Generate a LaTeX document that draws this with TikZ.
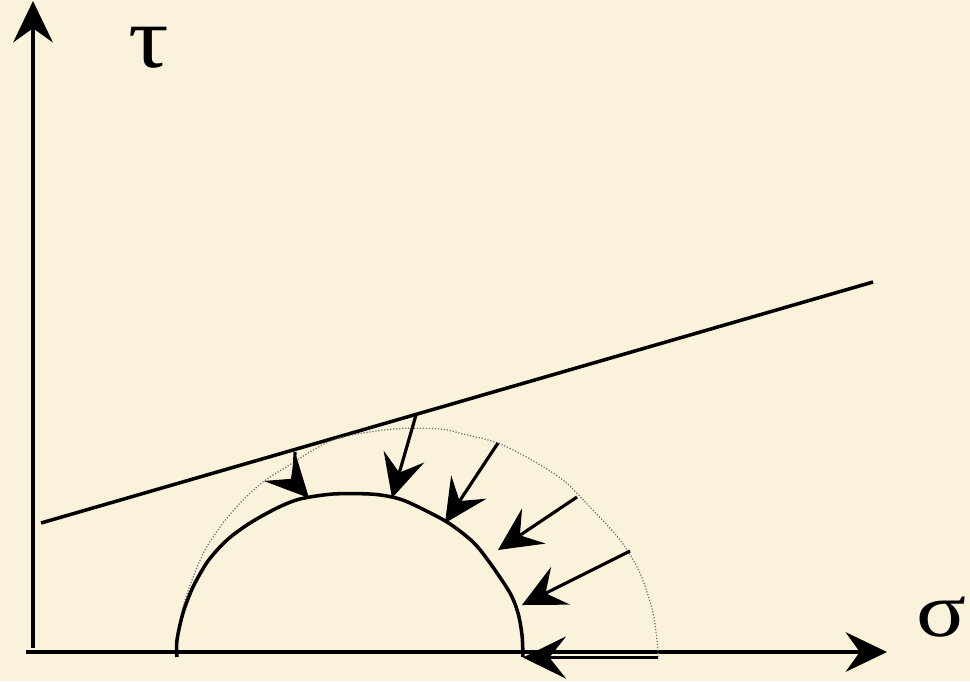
\documentclass[tikz,border=0pt]{standalone}
\usepackage{fontspec}
\setmainfont{Liberation Serif}
\usetikzlibrary{arrows.meta}
\definecolor{parch}{RGB}{251,242,220}
\tikzset{
  axisline/.style={line width=2pt, -{Stealth[length=23.5pt,width=22.5pt,inset=8pt]}},
  thick line/.style={line width=2pt},
  pusharrow/.style={line width=1.8pt, -{Stealth[length=24.5pt,width=24pt,inset=9.5pt]}},
  oldcircle/.style={black!55, line width=0.7pt, densely dotted},
  lab/.style={inner sep=0pt}
}
\begin{document}
\begin{tikzpicture}[x=0.02cm,y=-0.02cm]
\fill[parch] (0,0) rectangle (970,681);
\useasboundingbox (0,0) rectangle (970,681);
% axes
\coordinate (ytop) at (33,1);
\coordinate (ybot) at (33,648);
\coordinate (xl) at (26,652);
\coordinate (xr) at (887,652);
\draw[axisline] (ybot) -- (ytop);
\draw[axisline] (xl) -- (xr);
\node[lab, font=\fontsize{50}{54}\selectfont, xscale=1.15] (tau) at (149,48) {τ};
\node[lab, font=\fontsize{44}{48}\selectfont, xscale=1.2] (sig) at (941,617) {σ};
% envelope line
\coordinate (la) at (41,523);
\coordinate (lb) at (873,282);
\draw[thick line] (la) -- (lb);
% initial (dotted) circle
\draw[oldcircle] plot[smooth] coordinates {(177,650) (179,630) (183,607) (192,580) (205,550) (223,523) (243,500) (263,482) (283,469) (333,440) (393,429) (440,429) (463,434) (498,443) (530,459) (563,480) (590,507) (620,540) (640,573) (653,613) (658,650) (658,657)};
% reduced (solid) circle
\draw[thick line] plot[smooth] coordinates {(177,657) (177,640) (183,613) (193,587) (208,561) (227,540) (250,523) (277,508) (300,499) (333,494) (370,494) (392,497) (410,503) (447,522) (473,542) (490,563) (510,593) (518,613) (522,635) (523,657)};
% arrows
\coordinate (a1s) at (295,452); \coordinate (a1e) at (309,498);
\coordinate (a2s) at (416,415); \coordinate (a2e) at (392,498);
\coordinate (a3s) at (498,443); \coordinate (a3e) at (445,523);
\coordinate (a4s) at (577,497); \coordinate (a4e) at (498,550);
\coordinate (a5s) at (630,551); \coordinate (a5e) at (522,605);
\coordinate (a6s) at (658,657.5); \coordinate (a6e) at (523,657.5);
\draw[pusharrow] (a1s) .. controls (294,482) .. (a1e);
\draw[pusharrow] (a2s) -- (a2e);
\draw[pusharrow] (a3s) -- (a3e);
\draw[pusharrow] (a4s) -- (a4e);
\draw[pusharrow] (a5s) -- (a5e);
\draw[pusharrow] (a6s) -- (a6e);
\end{tikzpicture}
\end{document}
